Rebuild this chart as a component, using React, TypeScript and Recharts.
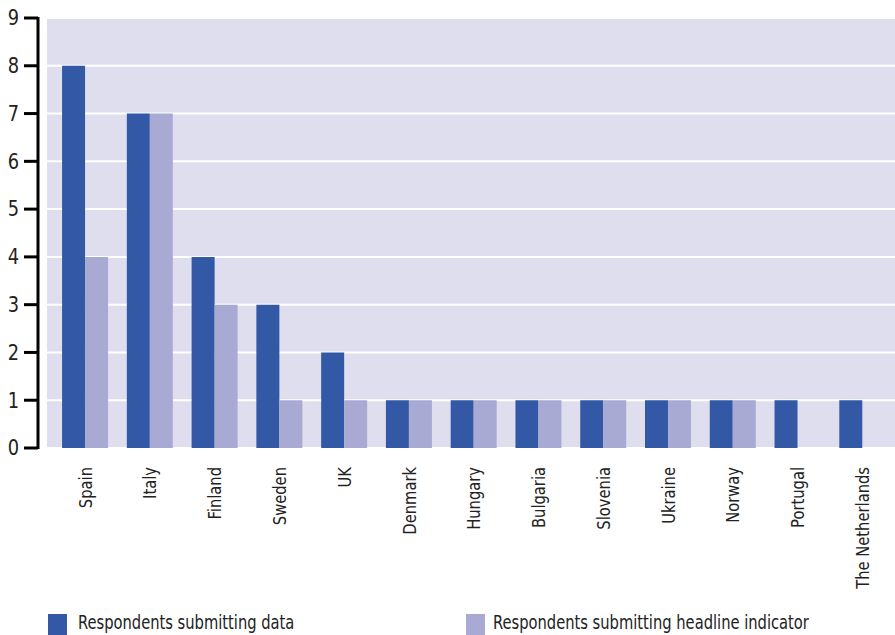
import React from 'react';
import { BarChart, Bar, XAxis, YAxis, CartesianGrid } from 'recharts';

const countries = ['Spain', 'Italy', 'Finland', 'Sweden', 'UK', 'Denmark', 'Hungary', 'Bulgaria', 'Slovenia', 'Ukraine', 'Norway', 'Portugal', 'The Netherlands'];
const submittingData = [8, 7, 4, 3, 2, 1, 1, 1, 1, 1, 1, 1, 1];
const submittingHeadline = [4, 7, 3, 1, 1, 1, 1, 1, 1, 1, 1, null, null];
const yTicks = [0, 1, 2, 3, 4, 5, 6, 7, 8, 9];

const DARK = '#3359a6';
const LIGHT = '#a9aad3';
const BG = '#dfdeee';
const FONT = "'Liberation Sans Narrow', 'DejaVu Sans Condensed', sans-serif";

const PLOT_TOP = 18;
const PLOT_BOTTOM = 448;

const rows = countries.map((name, i) => ({
    name,
    data: submittingData[i],
    headline: submittingHeadline[i],
}));

const YTick = (props: any) => {
    const { y, payload, index } = props;
    return (
        <g>
            {index === 0 && (
                <line x1={38} x2={38} y1={PLOT_BOTTOM + 1} y2={PLOT_TOP - 1} stroke="#000" strokeWidth={3} />
            )}
            <line x1={24} x2={38} y1={y} y2={y} stroke="#000" strokeWidth={3} />
            <text
                transform={`translate(19, ${y}) scale(0.9, 1)`}
                textAnchor="end"
                dominantBaseline="central"
                fontSize={22}
                fill="#222"
                fontFamily={FONT}
            >
                {payload.value}
            </text>
        </g>
    );
};

const XTick = (props: any) => {
    const { x, payload } = props;
    const y = PLOT_BOTTOM + 19;
    return (
        <text
            transform={`translate(${x}, ${y}) rotate(-90) scale(0.91, 1)`}
            textAnchor="end"
            dominantBaseline="central"
            fontSize={18}
            fill="#222"
            fontFamily={FONT}
        >
            {payload.value}
        </text>
    );
};

const legendText: React.CSSProperties = {
    position: 'absolute',
    top: 611,
    fontFamily: FONT,
    fontSize: 19,
    color: '#222',
    whiteSpace: 'nowrap',
    transform: 'scaleX(0.86)',
    transformOrigin: 'left top',
};

const App: React.FC = () => {
    return (
        <div style={{ position: 'absolute', left: 0, top: 0, width: 895, height: 635, background: '#fff', overflow: 'hidden' }}>
            <BarChart
                width={895}
                height={600}
                data={rows}
                margin={{ top: PLOT_TOP, right: 0, left: 0, bottom: 0 }}
                barCategoryGap="14%"
                barGap={0}
            >
                <CartesianGrid vertical={false} stroke="#fff" strokeWidth={2} fill={BG} fillOpacity={1} />
                <XAxis
                    dataKey="name"
                    axisLine={false}
                    tickLine={false}
                    interval={0}
                    height={152}
                    padding={{ left: 6, right: 0 }}
                    tick={<XTick />}
                />
                <YAxis
                    width={47}
                    domain={[0, 9]}
                    ticks={yTicks}
                    interval={0}
                    axisLine={false}
                    tickLine={false}
                    tick={<YTick />}
                />
                <Bar dataKey="data" fill={DARK} isAnimationActive={false} />
                <Bar dataKey="headline" fill={LIGHT} isAnimationActive={false} />
            </BarChart>
            <div style={{ position: 'absolute', left: 48, top: 614, width: 19, height: 21, background: DARK }} />
            <div style={{ ...legendText, left: 78 }}>Respondents submitting data</div>
            <div style={{ position: 'absolute', left: 466, top: 614, width: 19, height: 21, background: LIGHT }} />
            <div style={{ ...legendText, left: 493 }}>Respondents submitting headline indicator</div>
        </div>
    );
};

export default App;
